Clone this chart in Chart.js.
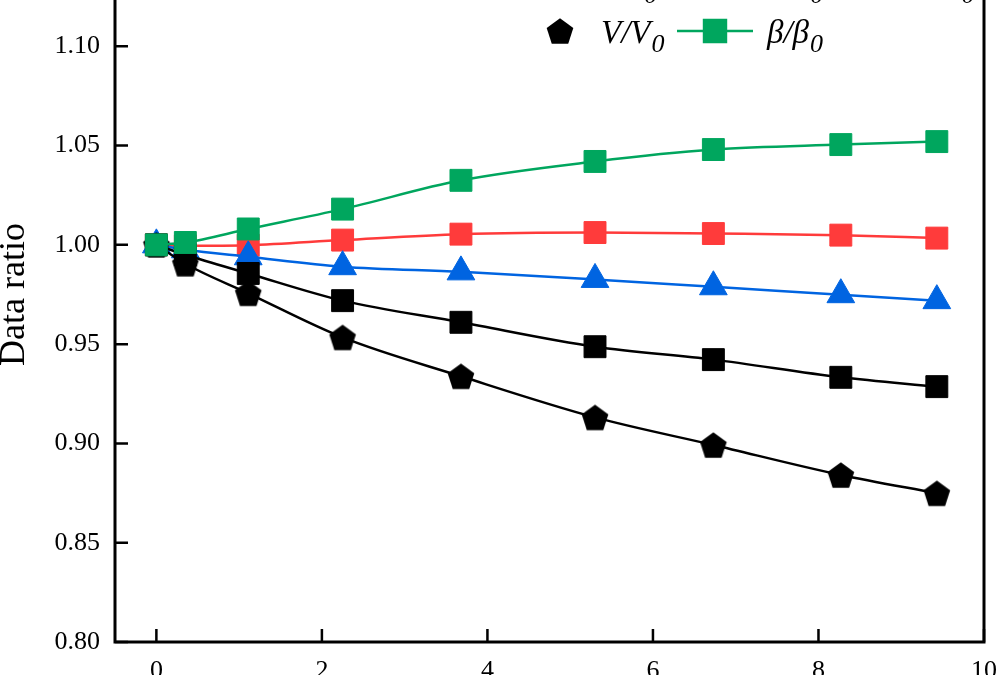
<!DOCTYPE html>
<html>
<head>
<meta charset="utf-8">
<title>Data ratio</title>
<script src="https://cdn.jsdelivr.net/npm/chart.js@4.4.0/dist/chart.umd.min.js"></script>
<style>
  html, body { margin: 0; padding: 0; background: #fff; }
  #wrap { position: relative; width: 996px; height: 675px; overflow: hidden; }
  #chart { position: absolute; left: 0; top: -70px; }
</style>
</head>
<body>
<div id="wrap"><canvas id="chart" width="1001" height="790"></canvas></div>
<script>
// pressure points and the five ratio series
var pressure = [0, 0.35, 1.11, 2.25, 3.68, 5.30, 6.73, 8.27, 9.43];
var aRatio = [1.000, 0.995, 0.9856, 0.9719, 0.9610, 0.9487, 0.9422, 0.9333, 0.9286];
var bRatio = [1.000, 0.9995, 0.9998, 1.0024, 1.0054, 1.0062, 1.0057, 1.0049, 1.0034];
var cRatio = [1.000, 0.9975, 0.994, 0.989, 0.9864, 0.9826, 0.9789, 0.9749, 0.9719];
var vRatio = [1.000, 0.9905, 0.9756, 0.9534, 0.9338, 0.9131, 0.8992, 0.8841, 0.8749];
var betaRatio = [1.000, 1.0012, 1.008, 1.018, 1.0325, 1.042, 1.048, 1.0505, 1.052];

var xTicks = [0, 2, 4, 6, 8, 10];
var yTicks = [0.80, 0.85, 0.90, 0.95, 1.00, 1.05, 1.10, 1.15];

var BLACK = '#000000';
var RED = '#FF3B3B';
var BLUE = '#0064E1';
var GREEN = '#00A65E';
var SERIF = "'Liberation Serif', 'Times New Roman', serif";

function makePentagon(size, color) {
    var c = document.createElement('canvas');
    c.width = size;
    c.height = size;
    var g = c.getContext('2d');
    var R = size / 2 - 1;
    var cx = size / 2;
    var cy = size / 2 + 0.0955 * R;
    g.beginPath();
    for (var k = 0; k < 5; k++) {
        var ang = -Math.PI / 2 + k * 2 * Math.PI / 5;
        var px = cx + R * Math.cos(ang);
        var py = cy + R * Math.sin(ang);
        if (k === 0) g.moveTo(px, py); else g.lineTo(px, py);
    }
    g.closePath();
    g.fillStyle = color;
    g.fill();
    return c;
}
var pentagon = makePentagon(30, BLACK);

function series(label, values, color, style, radius, order, legendLine) {
    return {
        label: label,
        data: pressure.map(function (p, i) { return { x: p, y: values[i] }; }),
        borderColor: color,
        backgroundColor: color,
        borderWidth: 2.5,
        pointStyle: style,
        pointRadius: radius,
        pointBorderWidth: 1,
        pointBorderColor: color,
        pointBackgroundColor: color,
        cubicInterpolationMode: 'monotone',
        order: order,
        legendLine: legendLine
    };
}

// legend grid: [column, row] for each dataset
var legendSlots = [[0, 0], [1, 0], [2, 0], [0, 1], [1, 1]];
var legendCols = [560, 715, 870];
var legendTextGap = [41, 52, 52];
var legendRows = [52, 101];

var legendPlugin = {
    id: 'boxLegend',
    afterDraw: function (chart) {
        var ctx = chart.ctx;
        ctx.save();
        chart.data.datasets.forEach(function (ds, i) {
            var col = legendSlots[i][0];
            var cx = legendCols[col];
            var cy = legendRows[legendSlots[i][1]];
            if (ds.legendLine) {
                ctx.strokeStyle = ds.borderColor;
                ctx.lineWidth = 2.5;
                ctx.beginPath();
                ctx.moveTo(cx - 38, cy);
                ctx.lineTo(cx + 38, cy);
                ctx.stroke();
            }
            ctx.fillStyle = ds.pointBackgroundColor;
            ctx.strokeStyle = ds.pointBorderColor;
            Chart.helpers.drawPoint(ctx, {
                pointStyle: ds.pointStyle,
                radius: ds.pointRadius,
                rotation: 0,
                borderWidth: 1
            }, cx, cy);

            var main = ds.label.replace('\u2080', '');
            var tx = cx + legendTextGap[col];
            var base = cy + 12;
            ctx.fillStyle = BLACK;
            ctx.textAlign = 'left';
            ctx.textBaseline = 'alphabetic';
            ctx.font = 'italic 33px ' + SERIF;
            ctx.fillText(main, tx, base);
            var w = ctx.measureText(main).width;
            ctx.font = 'italic 26px ' + SERIF;
            ctx.fillText('0', tx + w + 1, base + 9);
        });
        ctx.restore();
    }
};

var framePlugin = {
    id: 'frame',
    afterDraw: function (chart) {
        var ctx = chart.ctx;
        var a = chart.chartArea;
        var xs = chart.scales.x;
        var ys = chart.scales.y;
        ctx.save();
        ctx.strokeStyle = BLACK;
        ctx.lineWidth = 2.5;
        ctx.beginPath();
        xs.ticks.forEach(function (t) {
            var px = xs.getPixelForValue(t.value);
            ctx.moveTo(px, a.bottom);
            ctx.lineTo(px, a.bottom - 13);
        });
        ys.ticks.forEach(function (t) {
            var py = ys.getPixelForValue(t.value);
            ctx.moveTo(a.left, py);
            ctx.lineTo(a.left + 13, py);
        });
        ctx.stroke();
        ctx.lineWidth = 3;
        ctx.strokeRect(a.left, a.top, a.right - a.left, a.bottom - a.top);
        ctx.restore();
    }
};

var ctx = document.getElementById('chart').getContext('2d');
var myChart = new Chart(ctx, {
    type: 'line',
    data: {
        datasets: [
            series('a/a\u2080', aRatio, BLACK, 'rect', 15.5, 2, true),
            series('b/b\u2080', bRatio, RED, 'rect', 15.5, 4, true),
            series('c/c\u2080', cRatio, BLUE, 'triangle', 16, 3, true),
            series('V/V\u2080', vRatio, BLACK, pentagon, 14, 1, false),
            series('\u03b2/\u03b2\u2080', betaRatio, GREEN, 'rect', 15.5, 0, true)
        ]
    },
    options: {
        responsive: false,
        animation: false,
        devicePixelRatio: 1,
        layout: { padding: { top: 15.5, right: 8, left: 0, bottom: 0 } },
        plugins: {
            legend: { display: false },
            tooltip: { enabled: false }
        },
        scales: {
            x: {
                type: 'linear',
                min: -0.5,
                max: 10,
                grid: { display: false, drawTicks: false },
                border: { display: false },
                afterBuildTicks: function (scale) {
                    scale.ticks = xTicks.map(function (v) { return { value: v }; });
                },
                afterFit: function (scale) {
                    scale.height = 78;
                    scale.paddingLeft = 0;
                    scale.paddingRight = 0;
                },
                ticks: {
                    color: BLACK,
                    padding: 14,
                    font: { family: SERIF, size: 26 },
                    callback: function (v) { return String(v); }
                }
            },
            y: {
                type: 'linear',
                min: 0.80,
                max: 1.15,
                grid: { display: false, drawTicks: false },
                border: { display: false },
                afterBuildTicks: function (scale) {
                    scale.ticks = yTicks.map(function (v) { return { value: v }; });
                },
                afterFit: function (scale) {
                    scale.width = 115;
                    scale.paddingTop = 0;
                    scale.paddingBottom = 0;
                },
                ticks: {
                    color: BLACK,
                    padding: 15,
                    font: { family: SERIF, size: 26 },
                    callback: function (v) { return Number(v).toFixed(2); }
                },
                title: {
                    display: true,
                    text: 'Data ratio',
                    color: BLACK,
                    padding: 0,
                    font: { family: SERIF, size: 36, lineHeight: 0.8 }
                }
            }
        }
    },
    plugins: [framePlugin, legendPlugin]
});
</script>
</body>
</html>
